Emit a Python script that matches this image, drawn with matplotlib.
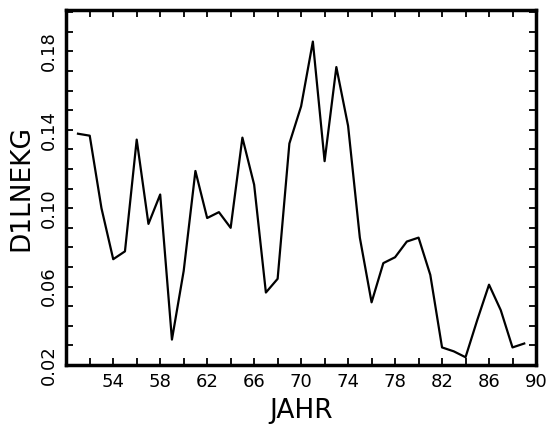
import numpy as np
import matplotlib
matplotlib.use('Agg')
import matplotlib.pyplot as plt
from matplotlib.ticker import MultipleLocator

# Jahr (19xx) und D1LNEKG
jahre = list(range(51, 90))
werte = [0.138, 0.137, 0.100, 0.074, 0.078, 0.135, 0.092, 0.107, 0.033, 0.068,
         0.119, 0.095, 0.098, 0.090, 0.136, 0.112, 0.057, 0.064, 0.133, 0.152,
         0.185, 0.124, 0.172, 0.142, 0.085, 0.052, 0.072, 0.075, 0.083, 0.085,
         0.066, 0.029, 0.027, 0.024, 0.043, 0.061, 0.048, 0.029, 0.031]

x_ticks = [50, 54, 58, 62, 66, 70, 74, 78, 82, 86, 90]
x_labels = ['', '54', '58', '62', '66', '70', '74', '78', '82', '86', '90']
y_ticks = [0.02, 0.06, 0.10, 0.14, 0.18]
y_labels = ['0.02', '0.06', '0.10', '0.14', '0.18']

plt.rcParams['font.family'] = ['DejaVu Sans']

fig = plt.figure(figsize=(5.52, 4.25), dpi=100)
ax = fig.add_axes([0.12, 0.141, 0.851, 0.835])

ax.plot(jahre, werte, color='black', linewidth=1.6)

ax.set_xlim(50, 90)
ax.set_ylim(0.02, 0.201)

ax.set_xticks(x_ticks)
ax.set_xticklabels(x_labels)
ax.xaxis.set_minor_locator(MultipleLocator(2))
ax.set_yticks(y_ticks)
ax.set_yticklabels(y_labels, rotation=90, va='center')
ax.yaxis.set_minor_locator(MultipleLocator(0.01))

ax.tick_params(which='both', direction='in', top=True, right=True,
               width=1.3, length=5, labelsize=13)
ax.tick_params(axis='x', pad=6)
ax.tick_params(axis='y', pad=6)

for s in ax.spines.values():
    s.set_linewidth(2.5)

ax.set_xlabel('JAHR', fontsize=19, labelpad=5)
ax.set_ylabel('D1LNEKG', fontsize=19, labelpad=4)

fig.savefig('out.png', dpi=100)
